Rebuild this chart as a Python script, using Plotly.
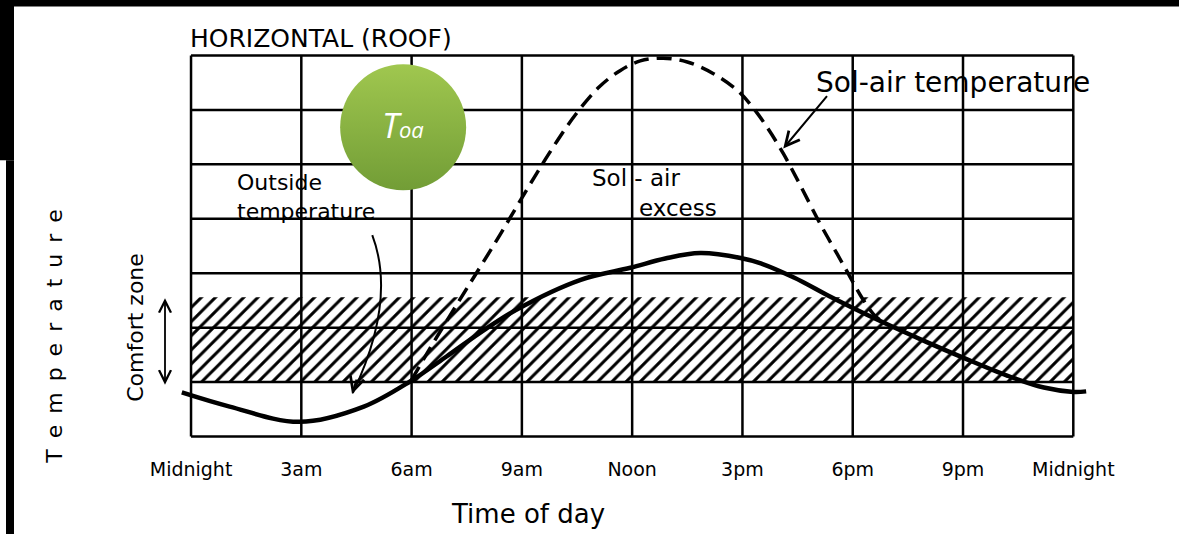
import plotly.graph_objects as go

# 时间（小时）与温度（格）数据
hours_outside = [-0.25, 1.05, 2.95, 4.7, 6.0, 6.95, 7.85, 8.85, 10.6, 11.95, 12.9,
                 13.85, 14.95, 15.5, 16.4, 17.3, 17.95, 18.85, 20.0, 21.0, 22.2, 23.2, 24.0, 24.35]
temp_outside = [0.81, 0.55, 0.27, 0.55, 1.03, 1.47, 1.90, 2.33, 2.88, 3.10, 3.27,
                3.37, 3.28, 3.18, 2.92, 2.60, 2.38, 2.09, 1.74, 1.45, 1.12, 0.90, 0.82, 0.83]

hours_solair = [6.0, 6.5, 7.3, 7.9, 8.4, 8.9, 9.4, 9.95, 10.5, 11.1, 11.67, 12.22,
                12.84, 13.5, 14.2, 14.86, 15.29, 15.67, 16.11, 16.57, 17.12, 17.58,
                17.93, 18.25, 18.6, 18.9]
temp_solair = [1.04, 1.62, 2.50, 3.15, 3.70, 4.27, 4.83, 5.42, 5.95, 6.42, 6.72, 6.90,
               6.95, 6.88, 6.67, 6.36, 6.04, 5.68, 5.20, 4.62, 3.90, 3.35,
               2.93, 2.55, 2.22, 2.07]

comfort_low, comfort_high = 1.0, 2.56
tick_hours = [0, 3, 6, 9, 12, 15, 18, 21, 24]
tick_text = ['Midnight', '3am', '6am', '9am', 'Noon', '3pm', '6pm', '9pm', 'Midnight']
grid_levels = [0, 1, 2, 3, 4, 5, 6, 7]

FONT = 'DejaVu Sans'
W, H = 1179, 534
X_RANGE = [-0.3, 24.4]
Y_RANGE = [-0.1, 7.1]
M_L, M_R = 180, 91
M_T, M_B = 49.5, 91.5
PW = W - M_L - M_R
PH = H - M_T - M_B


def px(x):
    return (x - M_L) / PW


def py(y):
    return (H - M_B - y) / PH


fig = go.Figure()

# 舒适区（斜线填充）
fig.add_trace(go.Scatter(
    x=[0, 24, 24, 0, 0],
    y=[comfort_low, comfort_low, comfort_high, comfort_high, comfort_low],
    mode='lines', line=dict(width=0), fill='toself', fillcolor='rgba(0,0,0,0)',
    fillpattern=dict(shape='/', size=10, solidity=0.3, fgopacity=1,
                     fgcolor='black', bgcolor='rgba(0,0,0,0)'),
    hoverinfo='skip', showlegend=False,
))

fig.add_trace(go.Scatter(
    x=hours_outside, y=temp_outside, mode='lines',
    line=dict(color='black', width=4.5, shape='spline', smoothing=1.0),
    showlegend=False,
))
fig.add_trace(go.Scatter(
    x=hours_solair, y=temp_solair, mode='lines',
    line=dict(color='black', width=3.5, shape='spline', smoothing=1.0, dash='15px,8px'),
    showlegend=False,
))

# 绿色圆形标签
fig.add_trace(go.Scatter(
    x=[5.77], y=[5.68], mode='markers',
    marker=dict(size=126, color='#a0c74f',
                gradient=dict(type='vertical', color='#729d36'),
                line=dict(width=0)),
    hoverinfo='skip', showlegend=False,
))

shapes = []
for lv in grid_levels:
    shapes.append(dict(type='line', xref='x', yref='y', x0=0, x1=24, y0=lv, y1=lv,
                       line=dict(color='black', width=2.5), layer='below'))
for hr in tick_hours:
    shapes.append(dict(type='line', xref='x', yref='y', x0=hr, x1=hr, y0=0, y1=7,
                       line=dict(color='black', width=2.5), layer='below'))

# 室外温度指示弯箭头
shapes.append(dict(type='path', xref='x', yref='y',
                   path='M 4.93,3.70 Q 5.6,2.5 4.4,0.8',
                   line=dict(color='black', width=2)))

# 黑色边框
shapes += [
    dict(type='rect', xref='paper', yref='paper', x0=px(-5), x1=px(W + 5), y0=py(6), y1=py(-5),
         fillcolor='black', line=dict(width=0)),
    dict(type='rect', xref='paper', yref='paper', x0=px(-5), x1=px(14), y0=py(160), y1=py(-5),
         fillcolor='black', line=dict(width=0)),
    dict(type='rect', xref='paper', yref='paper', x0=px(6), x1=px(14), y0=py(H + 5), y1=py(160),
         fillcolor='black', line=dict(width=0)),
]

SP = '\u2002'
annotations = [
    dict(text='HORIZONTAL (ROOF)', xref='paper', yref='paper', x=px(188), y=py(38),
         xanchor='left', yanchor='middle', showarrow=False,
         font=dict(size=25, family=FONT, color='black')),
    dict(text='Time of day', xref='paper', yref='paper', x=px(528), y=py(515),
         xanchor='center', yanchor='middle', showarrow=False,
         font=dict(size=26, family=FONT, color='black')),
    dict(text=SP.join('Temperature'), xref='paper', yref='paper', x=px(55), y=py(337),
         textangle=-90, xanchor='center', yanchor='middle', showarrow=False,
         font=dict(size=22, family=FONT, color='black')),
    dict(text='Comfort zone', xref='paper', yref='paper', x=px(136), y=py(328),
         textangle=-90, xanchor='center', yanchor='middle', showarrow=False,
         font=dict(size=22, family=FONT, color='black')),
    dict(text='', xref='paper', yref='paper', x=px(165), y=py(385),
         ax=0, ay=-88, showarrow=True, arrowside='end+start', arrowhead=5,
         arrowsize=1.3, arrowwidth=1.8, arrowcolor='black'),
    dict(text='Outside<br>temperature', xref='x', yref='y', x=1.2, y=4.4,
         xanchor='left', yanchor='middle', align='left', showarrow=False,
         font=dict(size=22, family=FONT, color='black')),
    dict(text='', xref='x', yref='y', x=4.38, y=0.78, ax=5, ay=-16,
         showarrow=True, arrowhead=5, arrowsize=1.4, arrowwidth=2, arrowcolor='black'),
    dict(text='Sol - air', xref='x', yref='y', x=12.1, y=4.74,
         xanchor='center', yanchor='middle', showarrow=False,
         font=dict(size=23, family=FONT, color='black')),
    dict(text='excess', xref='x', yref='y', x=13.25, y=4.2,
         xanchor='center', yanchor='middle', showarrow=False,
         font=dict(size=23, family=FONT, color='black')),
    dict(text='Sol-air temperature', xref='x', yref='y', x=16.95, y=6.5,
         xanchor='left', yanchor='middle', showarrow=False,
         font=dict(size=28, family=FONT, color='black')),
    dict(text='', xref='x', yref='y', x=16.11, y=5.29, ax=45, ay=-54,
         showarrow=True, arrowhead=5, arrowsize=1.4, arrowwidth=2, arrowcolor='black'),
    dict(text="<i>T</i><i><span style='font-size:22px'>oa</span></i>", xref='x', yref='y',
         x=5.77, y=5.72, xanchor='center', yanchor='middle', showarrow=False,
         font=dict(size=34, family='Open Sans', color='white')),
]

fig.update_layout(
    width=W, height=H,
    paper_bgcolor='white', plot_bgcolor='white',
    margin=dict(l=M_L, r=M_R, t=M_T, b=M_B),
    xaxis=dict(range=X_RANGE, showgrid=False, zeroline=False, showline=False,
               tickvals=tick_hours, ticktext=tick_text, ticks='',
               ticklabelstandoff=14,
               tickfont=dict(size=19, family=FONT, color='black')),
    yaxis=dict(range=Y_RANGE, showgrid=False, zeroline=False, showline=False,
               showticklabels=False, ticks=''),
    shapes=shapes, annotations=annotations,
    showlegend=False,
)

fig.write_html('out.html', config={'displayModeBar': False},
               post_script="document.body.style.margin='0';")
